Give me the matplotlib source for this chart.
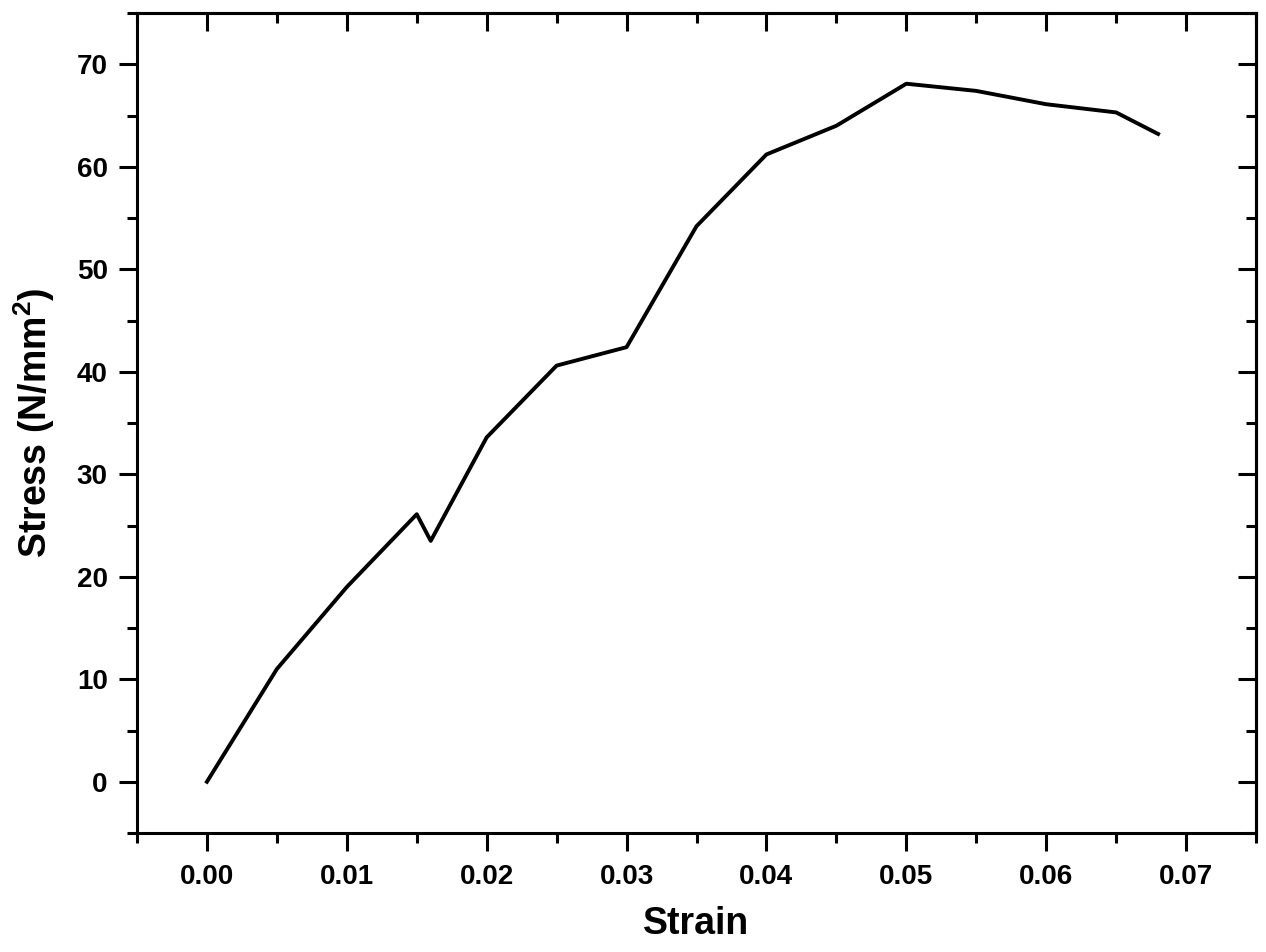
import matplotlib.pyplot as plt
from matplotlib.ticker import MultipleLocator, FormatStrFormatter, NullFormatter

# strain / stress values
strain = [0.0, 0.005, 0.010, 0.015, 0.016, 0.020, 0.025, 0.030, 0.035,
          0.040, 0.045, 0.050, 0.055, 0.060, 0.065, 0.068]
stress = [0.0, 11.0, 19.0, 26.1, 23.5, 33.6, 40.6, 42.4, 54.2,
          61.2, 64.0, 68.1, 67.4, 66.1, 65.3, 63.2]

plt.rcParams["font.family"] = ["Liberation Sans", "DejaVu Sans"]
plt.rcParams["font.weight"] = "bold"
plt.rcParams["mathtext.fontset"] = "custom"
plt.rcParams["mathtext.bf"] = "Liberation Sans:bold"
plt.rcParams["mathtext.rm"] = "Liberation Sans:bold"

fig = plt.figure(figsize=(12.66, 9.52), dpi=100)
ax = fig.add_axes([137 / 1266, 1 - 833 / 952, (1256 - 137) / 1266, (833 - 13) / 952])

ax.plot(strain, stress, color="black", linewidth=2.8)

ax.set_xlim(-0.005, 0.075)
ax.set_ylim(-5, 75)
ax.xaxis.set_major_locator(MultipleLocator(0.01))
ax.xaxis.set_minor_locator(MultipleLocator(0.005))
ax.yaxis.set_major_locator(MultipleLocator(10))
ax.yaxis.set_minor_locator(MultipleLocator(5))
ax.xaxis.set_major_formatter(FormatStrFormatter("%.2f"))

ax.tick_params(which="both", direction="out", width=2.2, labelsize=20)
ax.tick_params(which="major", length=13)
ax.tick_params(which="minor", length=7)
ax.tick_params(axis="x", which="major", pad=9)
ax.tick_params(axis="y", which="major", pad=8)

# top and right ticks point inward, no labels
top = ax.secondary_xaxis("top")
right = ax.secondary_yaxis("right")
for sec, loc_maj, loc_min in [(top, 0.01, 0.005), (right, 10, 5)]:
    axis = sec.xaxis if sec is top else sec.yaxis
    axis.set_major_locator(MultipleLocator(loc_maj))
    axis.set_minor_locator(MultipleLocator(loc_min))
    axis.set_major_formatter(NullFormatter())
    sec.tick_params(which="both", direction="in", width=2.2)
    sec.tick_params(which="major", length=13)
    sec.tick_params(which="minor", length=7)
    for s in sec.spines.values():
        s.set_linewidth(2.2)

for s in ax.spines.values():
    s.set_linewidth(2.2)

ax.set_xlabel("Strain", fontsize=27, fontweight="bold", labelpad=12)
ax.set_ylabel("Stress (N/mm$^\\mathbf{2}$)", fontsize=27, fontweight="bold", labelpad=14)

fig.savefig("out.png", dpi=100)
